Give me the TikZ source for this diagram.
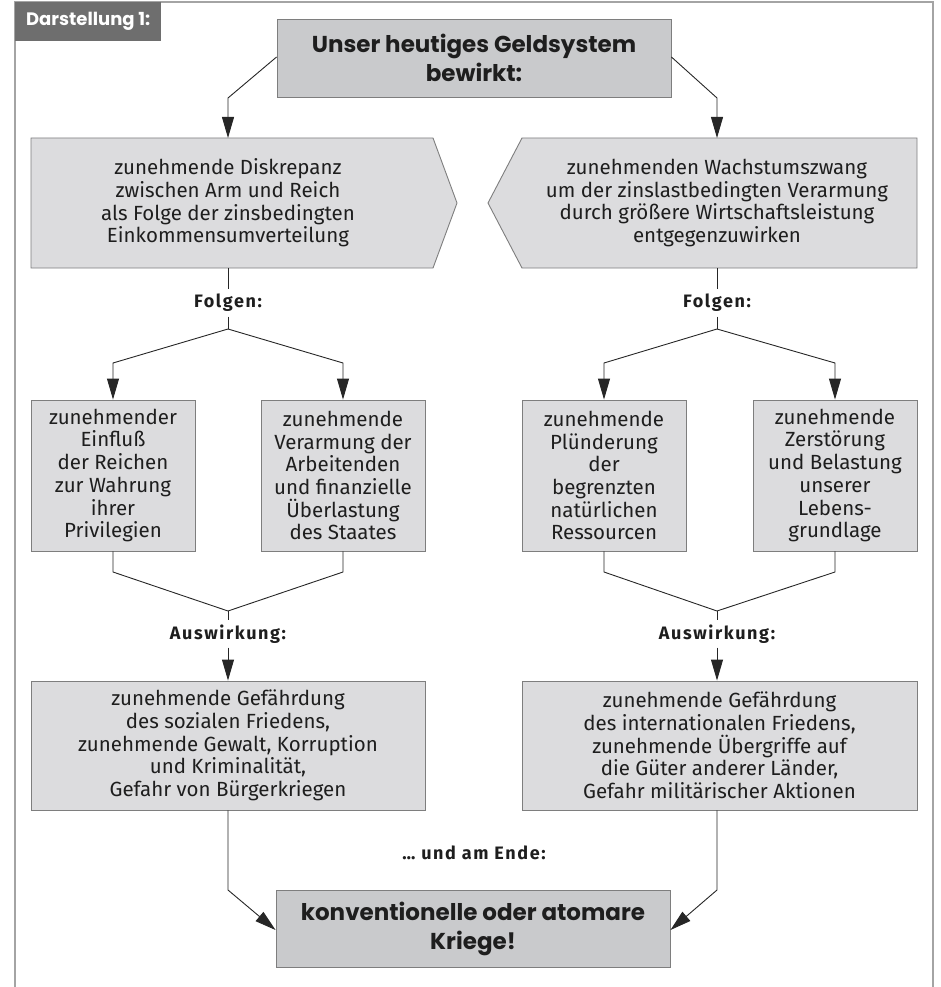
\documentclass[tikz,border=0pt]{standalone}
\usepackage{fontspec}
\setmainfont{Fira Sans}
\newfontfamily\futura{Poppins}
\newfontfamily\labelfont{Fira Sans}[LetterSpace=9]
\usetikzlibrary{arrows.meta}
\definecolor{framegray}{HTML}{A4A4A4}
\definecolor{labelgray}{HTML}{6E6E6E}
\definecolor{boxfill}{HTML}{DCDCDE}
\definecolor{darkfill}{HTML}{C9CACC}
\definecolor{boxline}{HTML}{7E7E7E}
\definecolor{conn}{HTML}{262626}
\definecolor{txt}{HTML}{1E1E1E}
\begin{document}
\begin{tikzpicture}[x=1pt,y=-1pt,
  bodytext/.style={font=\fontsize{20.5}{22.7}\selectfont, align=center, text=txt},
  plainbox/.style={bodytext, draw=boxline, fill=boxfill, line width=0.9pt, inner sep=0pt},
  bigbox/.style={draw=boxline, fill=darkfill, line width=0.9pt, inner sep=0pt, align=center, text=txt,
    font=\futura\bfseries\fontsize{23}{29}\selectfont},
  steplabel/.style={font=\labelfont\bfseries\fontsize{18}{22}\selectfont, text=txt, inner sep=0pt, minimum height=27pt},
  conn/.style={draw=conn, line width=0.9pt},
  arr/.style={conn, -{Triangle[length=21pt,width=12pt]}},
  framestyle/.style={draw=framegray, line width=2pt}
]
\useasboundingbox (0,0) rectangle (941,987);
% frame
\draw[framestyle] (15,987) -- (15,2) -- (933,2) -- (933,987);
\node[fill=labelgray, minimum width=146pt, minimum height=39pt, inner sep=0pt, anchor=north west,
  text=white, font=\futura\bfseries\fontsize{18}{20}\selectfont] (lab) at (15,2) {Darstellung 1:};

% title
\node[bigbox, minimum width=394pt, minimum height=78pt] (title) at (474,58) {Unser heutiges Geldsystem\\bewirkt:};

% pentagons
\draw[draw=boxline, fill=boxfill, line width=0.9pt] (31,138) -- (433,138) -- (457,203) -- (433,268) -- (31,268) -- cycle;
\draw[draw=boxline, fill=boxfill, line width=0.9pt] (917,138) -- (522,138) -- (488,203) -- (522,268) -- (917,268) -- cycle;
\node[bodytext] (pl) at (228,203) {zunehmende Diskrepanz\\zwischen Arm und Reich\\als Folge der zinsbedingten\\Einkommensumverteilung};
\node[bodytext] (pr) at (717,203) {zunehmenden Wachstumszwang\\um der zinslastbedingten Verarmung\\durch größere Wirtschaftsleistung\\entgegenzuwirken};
\coordinate (plt) at (228,138);
\coordinate (plb) at (228,268);
\coordinate (prt) at (717,138);
\coordinate (prb) at (717,268);

% title connectors
\coordinate (tl) at (228,98);
\coordinate (tr) at (717,98);
\draw[arr] (title.west |- 0,57) -- (tl) -- (plt);
\draw[arr] (title.east |- 0,57) -- (tr) -- (prt);

% Folgen
\node[steplabel] (fl) at (228,303) {Folgen:};
\node[steplabel] (fr) at (717,303) {Folgen:};
\draw[conn] (plb) -- (fl.north);
\draw[conn] (prb) -- (fr.north);
\coordinate (jl) at (228,329);
\coordinate (jr) at (717,329);

% small boxes
\node[plainbox, minimum width=164pt, minimum height=151pt] (b1) at (113,475.5) {zunehmender\\Einfluß\\der Reichen\\zur Wahrung\\ihrer\\Privilegien};
\node[plainbox, minimum width=164pt, minimum height=151pt] (b2) at (343,475.5) {zunehmende\\Verarmung der\\Arbeitenden\\und finanzielle\\Überlastung\\des Staates};
\node[plainbox, minimum width=164pt, minimum height=151pt] (b3) at (604,475.5) {zunehmende\\Plünderung\\der\\begrenzten\\natürlichen\\Ressourcen};
\node[plainbox, minimum width=164pt, minimum height=151pt] (b4) at (835,475.5) {zunehmende\\Zerstörung\\und Belastung\\unserer\\Lebens-\\grundlage};

\draw[conn] (fl.south) -- (jl);
\draw[conn] (fr.south) -- (jr);
\draw[arr] (jl) -- (b1.north |- 0,363) -- (b1.north);
\draw[arr] (jl) -- (b2.north |- 0,363) -- (b2.north);
\draw[arr] (jr) -- (b3.north |- 0,363) -- (b3.north);
\draw[arr] (jr) -- (b4.north |- 0,363) -- (b4.north);

% Auswirkung
\node[steplabel] (al) at (228,634) {Auswirkung:};
\node[steplabel] (ar) at (717,634) {Auswirkung:};
\coordinate (kl) at (228,611);
\coordinate (kr) at (717,611);
\draw[conn] (b1.south) -- (b1.south |- 0,572) -- (kl) -- (b2.south |- 0,572) -- (b2.south);
\draw[conn] (b3.south) -- (b3.south |- 0,572) -- (kr) -- (b4.south |- 0,572) -- (b4.south);
\draw[conn] (kl) -- (al.north);
\draw[conn] (kr) -- (ar.north);

% effect boxes
\node[plainbox, minimum width=394pt, minimum height=129pt] (bl) at (228,745.5) {zunehmende Gefährdung\\des sozialen Friedens,\\zunehmende Gewalt, Korruption\\und Kriminalität,\\Gefahr von Bürgerkriegen};
\node[plainbox, minimum width=395pt, minimum height=129pt] (br) at (719.5,745.5) {zunehmende Gefährdung\\des internationalen Friedens,\\zunehmende Übergriffe auf\\die Güter anderer Länder,\\Gefahr militärischer Aktionen};
\draw[arr] (al.south) -- (al.south |- bl.north);
\draw[arr] (ar.south) -- (ar.south |- br.north);

% end
\node[steplabel] (ende) at (474,853) {… und am Ende:};
\node[bigbox, minimum width=394pt, minimum height=77pt] (final) at (473,928.5) {konventionelle oder atomare\\Kriege!};
\coordinate (el) at (228,890);
\coordinate (er) at (717,890);
\draw[arr] (al.south |- bl.south) -- (el) -- (final.west |- 0,930);
\draw[arr] (ar.south |- br.south) -- (er) -- (final.east |- 0,930);
\end{tikzpicture}
\end{document}
